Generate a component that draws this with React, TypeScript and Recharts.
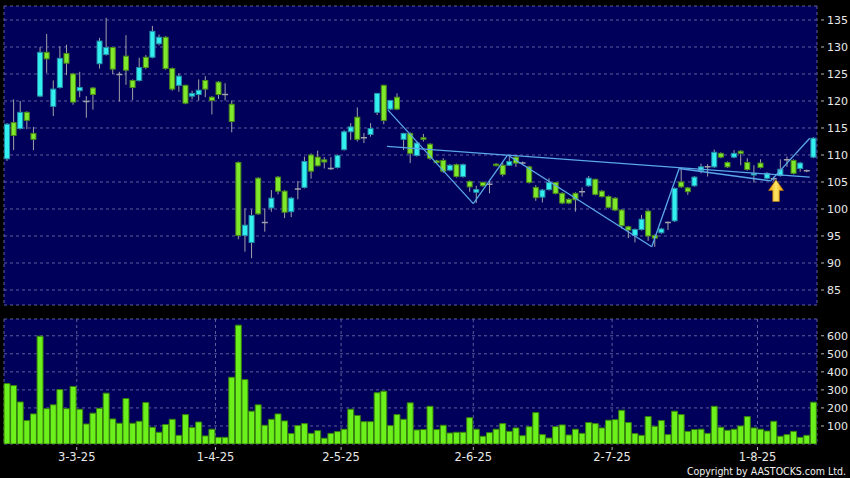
import React from 'react';
import {
  ComposedChart,
  BarChart,
  Bar,
  XAxis,
  YAxis,
  CartesianGrid,
  ReferenceLine,
  ReferenceDot,
} from 'recharts';

// daily candles, 14-2-25 .. 13-8-25 (index = trading day)
const opens = [
  109.3, 116.0, 114.9, 117.9, 114.0, 120.9, 129.0, 119.0, 122.5, 128.8,
  125.0, 121.9, 119.9, 122.4, 126.9, 128.6, 129.9, 124.9, 128.3, 123.8,
  123.8, 128.1, 128.1, 130.6, 131.8, 126.0, 122.9, 122.9, 120.9, 121.2,
  123.8, 120.7, 123.5, 121.2, 119.4, 108.6, 95.1, 93.8, 105.7, 97.5,
  100.2, 105.9, 103.3, 99.5, 103.7, 104.0, 110.0, 109.6, 109.1, 107.5,
  107.7, 111.0, 114.3, 117.0, 113.2, 113.8, 117.9, 122.9, 118.5, 120.7,
  112.9, 114.0, 109.9, 113.2, 112.0, 108.9, 109.0, 107.2, 108.2, 106.0,
  105.1, 103.1, 104.9, 104.6, 108.3, 108.1, 108.1, 109.6, 108.5, 107.8,
  104.0, 102.2, 103.6, 104.9, 102.9, 101.8, 102.9, 103.2, 104.3, 105.5,
  103.3, 102.3, 102.0, 99.8, 96.7, 95.1, 96.2, 99.6, 95.1, 95.6,
  97.5, 97.8, 105.0, 103.9, 104.3, 107.1, 107.8, 107.8, 110.3, 108.6,
  109.6, 110.7, 108.6, 106.3, 108.5, 105.7, 105.6, 106.2, 109.1, 109.0,
  107.5, 107.1, 109.6,
];
const highs = [
  115.9, 120.3, 120.0, 118.1, 115.2, 130.0, 132.4, 123.8, 130.1, 130.4,
  125.2, 125.4, 120.9, 122.6, 131.7, 135.4, 130.0, 125.4, 132.2, 124.0,
  128.0, 128.5, 133.9, 132.3, 132.0, 126.2, 125.1, 123.0, 121.9, 124.0,
  124.6, 120.9, 123.7, 123.3, 120.1, 108.8, 100.1, 99.9, 105.9, 100.1,
  103.5, 106.1, 103.5, 102.2, 105.2, 109.7, 110.3, 110.8, 109.6, 109.6,
  110.1, 114.6, 115.9, 118.8, 114.1, 115.9, 121.5, 123.0, 120.2, 121.4,
  114.1, 114.2, 112.4, 113.9, 112.2, 109.1, 109.4, 108.3, 108.4, 108.4,
  105.3, 104.3, 105.1, 105.4, 108.5, 108.6, 109.6, 110.0, 108.8, 108.0,
  104.4, 103.7, 105.7, 105.0, 103.1, 102.0, 103.1, 104.0, 106.1, 105.6,
  103.5, 102.5, 102.2, 100.0, 96.9, 96.4, 98.9, 99.8, 95.3, 96.5,
  97.7, 104.0, 107.5, 104.1, 106.1, 108.4, 108.3, 111.0, 110.5, 108.8,
  110.9, 110.9, 109.4, 108.1, 109.2, 106.8, 106.0, 109.2, 109.7, 109.2,
  108.7, 107.3, 113.3,
];
const lows = [
  108.9, 110.9, 114.7, 114.8, 110.9, 120.7, 125.2, 117.2, 122.3, 124.8,
  119.3, 120.7, 116.9, 118.4, 126.0, 128.4, 125.0, 119.9, 123.0, 120.2,
  123.6, 125.9, 127.9, 130.3, 125.8, 121.9, 121.7, 119.4, 120.3, 120.1,
  120.7, 117.5, 120.4, 120.1, 114.2, 94.4, 92.1, 90.9, 98.9, 95.8,
  99.5, 102.7, 98.3, 98.5, 101.8, 103.8, 105.6, 107.9, 107.5, 107.2,
  107.5, 110.8, 112.8, 112.5, 112.2, 113.4, 117.4, 115.7, 118.3, 118.3,
  110.9, 108.5, 109.7, 112.5, 109.1, 108.4, 106.7, 107.0, 105.8, 105.8,
  103.2, 101.1, 104.1, 102.9, 107.9, 106.0, 108.0, 107.8, 108.2, 104.7,
  101.5, 101.2, 103.4, 102.7, 100.9, 100.9, 99.5, 102.3, 104.1, 102.5,
  102.1, 100.1, 99.6, 96.4, 94.6, 93.8, 96.0, 94.1, 93.0, 95.4,
  96.1, 97.6, 103.9, 102.6, 104.1, 106.6, 106.0, 107.6, 109.4, 107.6,
  109.4, 108.1, 107.1, 104.9, 107.5, 105.5, 105.2, 106.0, 107.8, 106.4,
  106.9, 106.8, 109.4,
];
const closes = [
  115.7, 113.6, 117.9, 116.4, 112.9, 129.0, 127.8, 122.2, 127.9, 127.0,
  119.8, 122.5, 119.9, 121.2, 131.1, 129.9, 125.9, 124.9, 125.7, 122.5,
  126.2, 126.2, 132.9, 131.8, 126.0, 122.2, 124.6, 119.6, 121.4, 122.0,
  122.2, 120.1, 121.2, 121.2, 116.2, 95.1, 97.0, 98.8, 99.1, 97.5,
  102.0, 103.3, 99.4, 102.0, 103.7, 108.8, 107.0, 108.0, 108.7, 107.5,
  109.9, 114.3, 115.2, 112.9, 113.2, 114.9, 121.4, 116.4, 120.1, 118.5,
  114.0, 110.3, 112.2, 112.9, 109.4, 108.6, 107.0, 108.1, 106.0, 108.2,
  104.1, 103.6, 104.3, 104.6, 108.1, 106.4, 108.8, 108.5, 108.5, 104.9,
  102.1, 103.5, 104.9, 102.9, 101.1, 101.1, 101.7, 103.2, 105.7, 102.7,
  102.3, 100.3, 99.8, 96.9, 96.1, 96.2, 98.1, 95.0, 94.6, 96.3,
  97.5, 103.8, 104.1, 103.2, 105.9, 107.8, 107.8, 110.5, 109.6, 107.8,
  110.3, 110.3, 107.3, 106.6, 107.7, 106.6, 105.6, 107.35, 109.1, 106.6,
  108.5, 107.1, 113.1,
];
// volume, thousands
const volumes = [
  335, 324, 233, 130, 167, 598, 196, 217, 302, 196,
  319, 193, 111, 171, 198, 282, 139, 115, 252, 115,
  126, 230, 93, 65, 108, 137, 48, 163, 91, 122,
  45, 82, 37, 37, 370, 659, 357, 182, 217, 104,
  137, 167, 128, 58, 102, 113, 59, 74, 32, 59,
  69, 82, 193, 158, 124, 124, 284, 293, 102, 163,
  137, 228, 78, 80, 209, 80, 104, 61, 65, 65,
  146, 82, 43, 63, 82, 113, 70, 89, 46, 96,
  174, 52, 33, 96, 106, 50, 82, 59, 119, 113,
  89, 132, 135, 187, 119, 58, 48, 152, 98, 130,
  52, 182, 163, 70, 80, 82, 59, 209, 93, 76,
  82, 100, 152, 89, 82, 72, 126, 43, 52, 70,
  37, 48, 232,
];

// month starts sit on the left edge of the first trading day
const monthTicks = [10.5, 31.5, 50.5, 70.5, 91.5, 113.5];
const monthLabels = ['3-3-25', '1-4-25', '2-5-25', '2-6-25', '2-7-25', '1-8-25'];
const priceTicks = [85, 90, 95, 100, 105, 110, 115, 120, 125, 130, 135];
const volumeTicks = [100, 200, 300, 400, 500, 600];

// drawn pattern: zigzag through swing points + neckline, (index, price)
const zigzag = [
  [57.6, 118.3], [70.5, 101.0], [75.7, 110.0], [97.5, 93.0],
  [101.65, 107.5], [115.5, 105.2], [121.4, 113.1],
];
const neckline = [[57.45, 111.6], [121.4, 105.9]];
const arrowPoint = [116.3, 105.4];

const NAVY = '#00005a';
const GRID = '#5e5e9e';
const CYAN = '#33f0f0';
const CYAN_EDGE = '#2390a8';
const LIME = '#7fe82a';
const LIME_EDGE = '#4a8a1a';
const WICK = '#a0a0a8';
const TREND = '#5aa8e8';
const TXT = '#e8e8e8';
const FONT = 'DejaVu Sans';

const candles = opens.map((o, i) => ({
  i,
  open: o,
  high: highs[i],
  low: lows[i],
  close: closes[i],
}));
const volumeData = volumes.map((v, i) => ({ i, v }));

const Candle = (props: any) => {
  const { x, y, width, height, payload } = props;
  const top = Math.min(y, y + height);
  const h = Math.abs(height);
  const { open, close, high, low } = payload;
  const k = high > low ? h / (high - low) : 0;
  const py = (v: number) => top + (high - v) * k;
  const cx = x + width / 2;
  const yo = py(open);
  const yc = py(close);
  const flat = open === close;
  const up = close > open;
  return (
    <g>
      <line x1={cx} x2={cx} y1={top} y2={top + h} stroke={WICK} strokeWidth={1} />
      {flat ? (
        <line x1={x} x2={x + width} y1={yo} y2={yo} stroke={WICK} strokeWidth={1.5} />
      ) : (
        <rect
          x={x + 0.5}
          y={Math.min(yo, yc)}
          width={width - 1}
          height={Math.max(1.5, Math.abs(yo - yc))}
          fill={up ? CYAN : LIME}
          stroke={up ? CYAN_EDGE : LIME_EDGE}
          strokeWidth={1}
        />
      )}
    </g>
  );
};

const RightTick = ({ x, y, payload }: any) => (
  <g>
    <line x1={x + 4} x2={x + 7} y1={y} y2={y} stroke="#b8b8b8" />
    <text x={x + 10} y={y} dy={4} fill={TXT} fontSize={11} fontFamily={FONT}>
      {payload.value}
    </text>
  </g>
);

const DateTick = ({ x, y, payload }: any) => {
  const idx = monthTicks.indexOf(payload.value);
  return (
    <g>
      <line x1={x} x2={x} y1={y + 3} y2={y + 6} stroke="#b8b8b8" />
      <text x={x} y={y + 17} textAnchor="middle" fill={TXT} fontSize={11.5} fontFamily={FONT}>
        {monthLabels[idx]}
      </text>
    </g>
  );
};

const Arrow = ({ cx, cy }: any) => (
  <g>
    <defs>
      <linearGradient id="arrowFill" x1="0" y1="0" x2="1" y2="0">
        <stop offset="0%" stopColor="#e89a00" />
        <stop offset="50%" stopColor="#ffe866" />
        <stop offset="100%" stopColor="#e89a00" />
      </linearGradient>
    </defs>
    <path
      d={`M${cx},${cy} L${cx + 7.5},${cy + 10.7} L${cx + 3.4},${cy + 10.7} L${cx + 3.4},${cy + 21.7} L${cx - 3.3},${cy + 21.7} L${cx - 3.3},${cy + 10.7} L${cx - 7.5},${cy + 10.7} Z`}
      fill="url(#arrowFill)"
      stroke="#b87400"
      strokeWidth={0.6}
    />
  </g>
);

export default function App() {
  return (
    <div
      style={{
        position: 'fixed',
        left: 0,
        top: 0,
        width: 850,
        height: 478,
        background: '#000',
        overflow: 'hidden',
      }}
    >
      <div style={{ position: 'absolute', left: 0, top: 0 }}>
        <ComposedChart
          width={850}
          height={311}
          data={candles}
          margin={{ top: 6, right: 0, bottom: 6, left: 4 }}
        >
          <CartesianGrid
            fill={NAVY}
            stroke={GRID}
            strokeDasharray="3 3"
          />
          <XAxis
            type="number"
            dataKey="i"
            domain={[-0.5, 122.5]}
            ticks={monthTicks}
            tick={false}
            tickLine={false}
            axisLine={false}
            height={0}
          />
          <YAxis
            orientation="right"
            type="number"
            domain={[82.22, 137.59]}
            ticks={priceTicks}
            interval={0}
            width={33}
            axisLine={false}
            tickLine={false}
            tickSize={0}
            tickMargin={0}
            tick={<RightTick />}
            allowDataOverflow
          />
          <Bar
            dataKey={(d: any) => [d.low, d.high]}
            barSize={6}
            shape={(p: any) => <Candle {...p} />}
            isAnimationActive={false}
          />
          {zigzag.slice(1).map((pt, k) => (
            <ReferenceLine
              key={`z${k}`}
              segment={[
                { x: zigzag[k][0], y: zigzag[k][1] },
                { x: pt[0], y: pt[1] },
              ]}
              stroke={TREND}
              strokeWidth={1.3}
            />
          ))}
          <ReferenceLine
            segment={[
              { x: neckline[0][0], y: neckline[0][1] },
              { x: neckline[1][0], y: neckline[1][1] },
            ]}
            stroke={TREND}
            strokeWidth={1.3}
          />
          <ReferenceDot
            x={arrowPoint[0]}
            y={arrowPoint[1]}
            r={8}
            shape={(p: any) => <Arrow {...p} />}
          />
        </ComposedChart>
      </div>
      <div style={{ position: 'absolute', left: 0, top: 310 }}>
        <BarChart
          width={850}
          height={168}
          data={volumeData}
          margin={{ top: 9, right: 0, bottom: 0, left: 4 }}
        >
          <CartesianGrid fill={NAVY} stroke={GRID} strokeDasharray="3 3" />
          <XAxis
            type="number"
            dataKey="i"
            domain={[-0.5, 122.5]}
            ticks={monthTicks}
            axisLine={false}
            tickLine={false}
            tickSize={0}
            tickMargin={0}
            tick={<DateTick />}
            height={34}
            interval={0}
          />
          <YAxis
            orientation="right"
            type="number"
            domain={[0, 693]}
            ticks={volumeTicks}
            interval={0}
            width={33}
            axisLine={false}
            tickLine={false}
            tickSize={0}
            tickMargin={0}
            tick={<RightTick />}
            allowDataOverflow
          />
          <Bar
            dataKey="v"
            barSize={6}
            fill="#6cf01c"
            stroke="#367f0c"
            strokeWidth={1}
            isAnimationActive={false}
          />
        </BarChart>
      </div>
      <div
        style={{
          position: 'absolute',
          right: 4,
          top: 465,
          fontFamily: 'DejaVu Sans Condensed, DejaVu Sans',
          fontSize: 10.5,
          lineHeight: '13px',
          color: '#f0f0f0',
          whiteSpace: 'nowrap',
        }}
      >
        Copyright by AASTOCKS.com Ltd.
      </div>
    </div>
  );
}
